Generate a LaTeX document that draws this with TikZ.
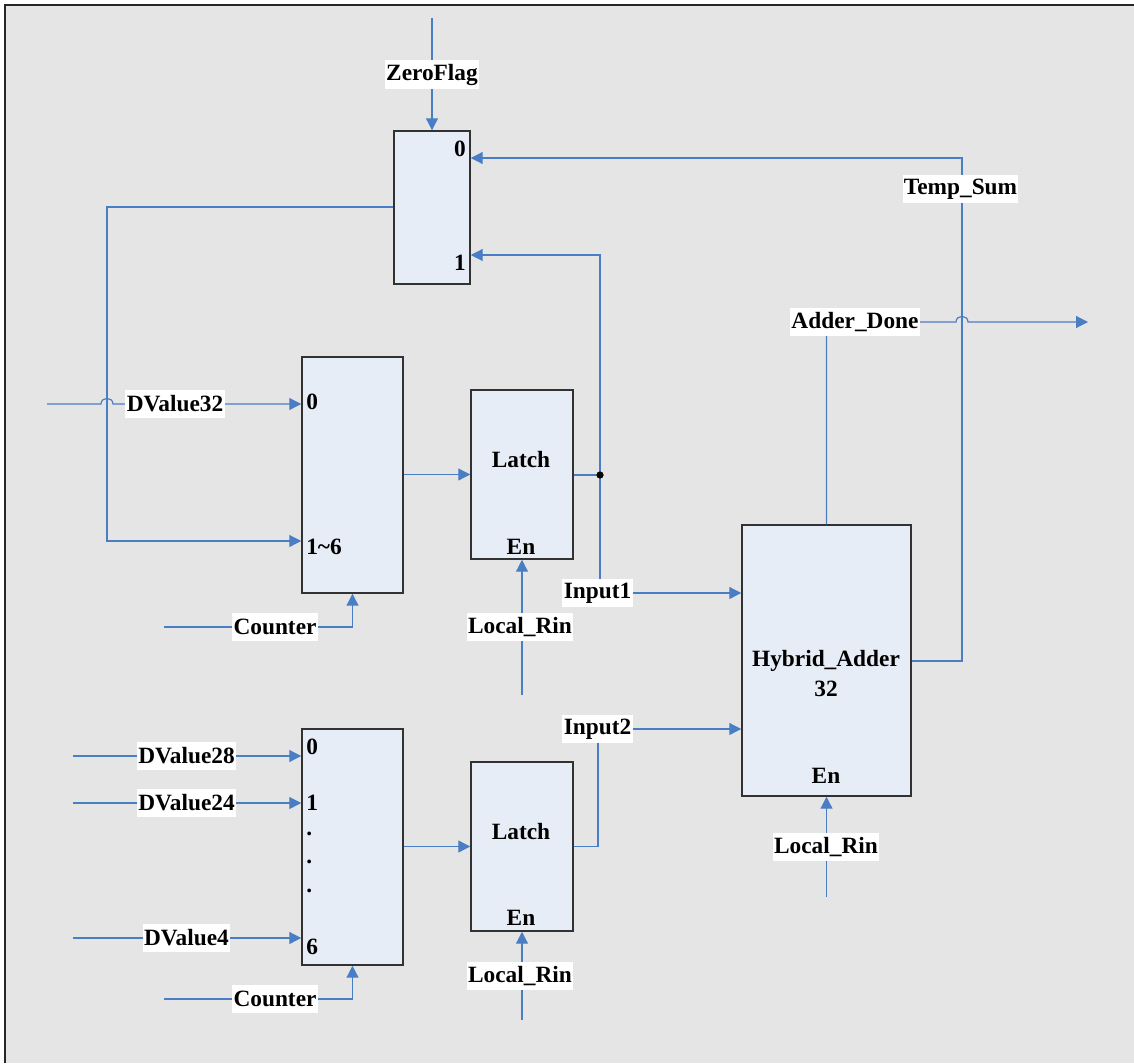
\documentclass[tikz,border=0pt]{standalone}
\usepackage{fontspec}
\setmainfont{Liberation Serif}
\usetikzlibrary{arrows.meta,fit}
\definecolor{wireblue}{RGB}{74,126,196}
\definecolor{boxfill}{RGB}{231,237,246}
\definecolor{canvas}{RGB}{229,229,229}
\definecolor{boxline}{RGB}{50,50,50}

\begin{document}
\begin{tikzpicture}[x=0.75pt,y=-0.75pt,
  font=\fontsize{17.5}{20}\selectfont\bfseries,
  blk/.style={draw=boxline,fill=boxfill,line width=1.1pt,inner sep=0pt},
  wire/.style={draw=wireblue,line width=0.9pt},
  arr/.style={wire,-{Triangle[length=9pt,width=9pt]}},
  lbl/.style={fill=white,inner xsep=1pt,inner ysep=0pt,minimum height=21pt},
  txt/.style={inner sep=0pt}]
\useasboundingbox (0,0) rectangle (1134,1063);
\fill[canvas] (5,5) rectangle (1134,1063);
\draw[line width=1.1pt,black!85] (5,1063) -- (5,5) -- (1134,5);

% blocks
\node[blk,fit={(394,131)(470,284)}] (mux0) {};
\node[blk,fit={(302,357)(403,593)}] (mux1) {};
\node[blk,fit={(471,390)(573,559)}] (latchA) {};
\node[blk,fit={(742,525)(911,796)}] (adder) {};
\node[blk,fit={(302,729)(403,965)}] (mux2) {};
\node[blk,fit={(471,762)(573,931)}] (latchB) {};

% texts inside the blocks
\node[txt,anchor=east] (m0a) at (466,149) {0};
\node[txt,anchor=east] (m0b) at (466,263) {1};
\node[txt,anchor=west] (m1a) at (306,402) {0};
\node[txt,anchor=west] (m1b) at (306,547) {1\textasciitilde6};
\node[txt] (lAt) at (521,460) {Latch};
\node[txt] (lAe) at (521,547) {En};
\node[txt] (lBt) at (521,832) {Latch};
\node[txt] (lBe) at (521,918) {En};
\node[txt] (adt) at (826,661) {Hybrid\_Adder};
\node[txt] (adn) at (826,689) {32};
\node[txt] (ade) at (826,776) {En};
\node[txt,anchor=west] (m2a) at (306,747) {0};
\node[txt,anchor=west] (m2b) at (306,803) {1};
\node[txt,anchor=west] (m2c) at (306,834) {.};
\node[txt,anchor=west] (m2d) at (306,862) {.};
\node[txt,anchor=west] (m2e) at (306,891) {.};
\node[txt,anchor=west] (m2f) at (306,947) {6};

% free ends and junctions
\coordinate (zf) at (432,18);
\coordinate (j1) at (600,475);
\coordinate (dv32) at (47,404);
\coordinate (cnt1) at (164,627);
\coordinate (rin1) at (522,695);
\coordinate (done) at (1088,322);
\coordinate (dv28) at (73,756);
\coordinate (dv24) at (73,803);
\coordinate (dv4) at (73,938);
\coordinate (cnt2) at (164,999);
\coordinate (rin2) at (522,1020);
\coordinate (rin3) at (826.5,897);

% connectors
\draw[arr] (zf) -- (mux0.north);
\draw[arr] (adder.east |- 0,661) -- (962,661) -- (962,158) -- (mux0.east |- 0,158);
\draw[wire] (latchA.east |- j1) -- (j1);
\draw[arr] (j1) -- (600,255) -- (mux0.east |- 0,255);
\draw[arr] (j1) -- (600,593) -- (adder.west |- 0,593);
\draw[arr] (mux0.west |- 0,207) -- (107,207) -- (107,541) -- (mux1.west |- 0,541);
\draw[arr] (dv32) -- (101,404) .. controls (101,396.5) and (113,396.5) .. (113,404) -- (mux1.west |- dv32);
\draw[arr] (mux1.east |- latchA.west) -- (latchA.west);
\draw[arr] (cnt1) -| (mux1.south);
\draw[arr] (rin1) -- (latchA.south);
\draw[arr] (adder.north) |- (956,322) .. controls (956,314.5) and (968,314.5) .. (968,322) -- (done);
\draw[arr] (latchB.east) -- (598,846.5) -- (598,729) -- (adder.west |- 0,729);
\draw[arr] (mux2.east |- latchB.west) -- (latchB.west);
\draw[arr] (dv28) -- (mux2.west |- dv28);
\draw[arr] (dv24) -- (mux2.west |- dv24);
\draw[arr] (dv4) -- (mux2.west |- dv4);
\draw[arr] (cnt2) -| (mux2.south);
\draw[arr] (rin2) -- (latchB.south);
\draw[arr] (rin3) -- (adder.south);
\fill (j1) circle[radius=2.7pt];

% signal labels
\node[lbl] (zfl) at (432,74.5) {ZeroFlag};
\node[lbl] (tsl) at (960.5,189) {Temp\_Sum};
\node[lbl] (adl) at (855,322) {Adder\_Done};
\node[lbl] (d32l) at (175,404) {DValue32};
\node[lbl] (c1l) at (275,627) {Counter};
\node[lbl] (r1l) at (520,627) {Local\_Rin};
\node[lbl] (i1l) at (597.5,593) {Input1};
\node[lbl] (i2l) at (597.5,729) {Input2};
\node[lbl] (r3l) at (826,847) {Local\_Rin};
\node[lbl] (d28l) at (186.5,756) {DValue28};
\node[lbl] (d24l) at (186.5,803) {DValue24};
\node[lbl] (d4l) at (186.5,938) {DValue4};
\node[lbl] (c2l) at (275,999) {Counter};
\node[lbl] (r2l) at (520,976) {Local\_Rin};
\end{tikzpicture}
\end{document}
